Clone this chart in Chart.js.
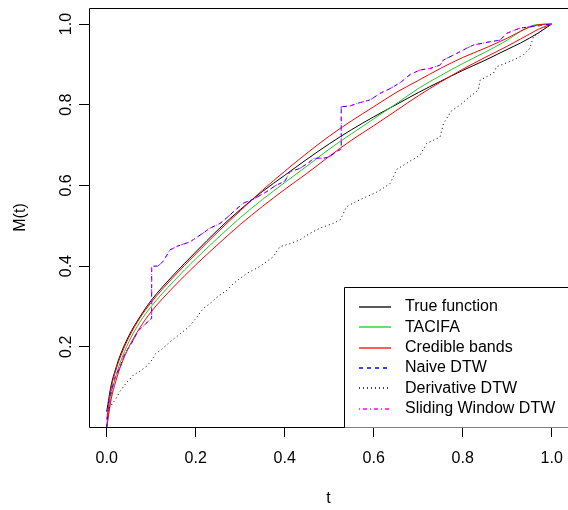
<!DOCTYPE html>
<html><head><meta charset="utf-8">
<script src="https://cdn.jsdelivr.net/npm/chart.js@4/dist/chart.umd.min.js"></script>
<style>html,body{margin:0;padding:0;background:#fff;overflow:hidden}#wrap{width:568px;height:510px}</style>
</head><body><div id="wrap"><canvas id="c" width="568" height="510"></canvas></div>
<script>
// ---- data ----
const tSmooth = [0,0.01,0.02,0.03,0.05,0.075,0.1,0.15,0.2,0.25,0.3,0.35,0.4,0.45,0.5,0.55,0.6,0.65,0.7,0.75,0.8,0.85,0.9,0.93,0.95,0.97,1.0];
const trueFunction = [0.04,0.105,0.145,0.178,0.228,0.275,0.315,0.378,0.435,0.49,0.54,0.585,0.625,0.665,0.703,0.738,0.77,0.80,0.83,0.858,0.885,0.91,0.937,0.953,0.965,0.978,1.0];
const tacifa = [0.0,0.08,0.125,0.16,0.213,0.262,0.30,0.362,0.418,0.47,0.52,0.565,0.607,0.648,0.69,0.728,0.765,0.802,0.84,0.872,0.902,0.93,0.96,0.982,0.994,0.999,1.0];
const bandUpper = [0.02,0.098,0.14,0.173,0.224,0.272,0.31,0.373,0.43,0.485,0.537,0.588,0.635,0.68,0.722,0.76,0.795,0.83,0.86,0.89,0.917,0.94,0.965,0.982,0.992,0.998,1.0];
const bandLower = [0.0,0.07,0.113,0.148,0.2,0.248,0.287,0.348,0.403,0.454,0.503,0.548,0.59,0.63,0.672,0.712,0.748,0.785,0.822,0.856,0.888,0.917,0.945,0.963,0.975,0.987,1.0];

const tDTW = [0,0.004,0.011,0.019,0.03,0.041,0.056,0.071,0.086,0.097,0.101,0.101,0.115,0.127,0.142,0.16,0.187,0.21,0.232,0.255,0.27,0.29,0.307,0.33,0.36,0.38,0.40,0.412,0.434,0.457,0.464,0.49,0.502,0.517,0.527,0.527,0.547,0.562,0.592,0.614,0.637,0.66,0.682,0.704,0.727,0.749,0.757,0.779,0.809,0.824,0.861,0.884,0.899,0.929,0.966,1.0];
const naiveDTW = [0,0.06,0.093,0.126,0.15,0.184,0.209,0.24,0.255,0.268,0.27,0.40,0.40,0.412,0.44,0.45,0.46,0.477,0.494,0.506,0.52,0.54,0.556,0.566,0.585,0.60,0.61,0.634,0.642,0.659,0.667,0.668,0.672,0.684,0.69,0.795,0.797,0.803,0.812,0.828,0.84,0.855,0.875,0.886,0.89,0.898,0.911,0.923,0.94,0.948,0.956,0.96,0.977,0.99,0.995,1.0];
const slidingDTW = [0,0.06,0.093,0.126,0.15,0.184,0.209,0.24,0.255,0.268,0.27,0.40,0.40,0.412,0.44,0.45,0.46,0.477,0.494,0.506,0.52,0.54,0.556,0.566,0.585,0.60,0.61,0.634,0.642,0.659,0.667,0.668,0.672,0.684,0.69,0.795,0.797,0.803,0.812,0.828,0.84,0.855,0.875,0.886,0.89,0.898,0.911,0.923,0.94,0.948,0.956,0.96,0.977,0.99,0.995,1.0];

const tDeriv = [0,0.01,0.02,0.03,0.04,0.05,0.06,0.075,0.09,0.1,0.11,0.125,0.145,0.165,0.185,0.2,0.217,0.235,0.25,0.27,0.285,0.3,0.315,0.344,0.374,0.389,0.41,0.434,0.455,0.479,0.509,0.525,0.539,0.56,0.584,0.61,0.637,0.652,0.674,0.704,0.719,0.749,0.757,0.775,0.794,0.816,0.835,0.839,0.869,0.876,0.906,0.936,0.951,0.959,0.97,0.981,1.0];
const derivativeDTW = [0.04,0.055,0.07,0.09,0.105,0.118,0.13,0.14,0.152,0.165,0.183,0.195,0.215,0.232,0.25,0.27,0.295,0.31,0.325,0.34,0.357,0.37,0.382,0.399,0.423,0.448,0.455,0.465,0.48,0.494,0.506,0.515,0.547,0.56,0.572,0.585,0.605,0.64,0.655,0.675,0.704,0.72,0.754,0.785,0.799,0.82,0.836,0.861,0.878,0.894,0.907,0.923,0.94,0.969,0.977,0.989,1.0];

const xTickValues = [0,0.2,0.4,0.6,0.8,1.0];
const yTickValues = [0.2,0.4,0.6,0.8,1.0];
const legendLabels = ['True function','TACIFA','Credible bands','Naive DTW','Derivative DTW','Sliding Window DTW'];
const xTitle = 't';
const yTitle = 'M(t)';

// ---- styles ----
const C_BLACK='#000000', C_GREEN='#1fc81f', C_RED='#ff0000', C_BLUE='#0000ff', C_MAG='#ff00ff';
const legendStyles = [
  {color:C_BLACK, dash:[]},
  {color:C_GREEN, dash:[]},
  {color:C_RED, dash:[]},
  {color:C_BLUE, dash:[4,4]},
  {color:C_BLACK, dash:[1,3]},
  {color:C_MAG, dash:[1,3,4,3]}
];

function pts(ts, ys){ return ts.map((t,i)=>({x:t,y:ys[i]})); }

Chart.defaults.font.family = "'Liberation Sans', Arial, Helvetica, sans-serif";
Chart.defaults.font.size = 16;
Chart.defaults.color = '#000';

const boxPlugin = {
  id:'rbox',
  afterDraw(chart){
    const ctx = chart.ctx, a = chart.chartArea;
    const L = Math.round(a.left)+0.5, T = Math.round(a.top)+0.5, B = Math.round(a.bottom)+0.5;
    ctx.save();
    ctx.lineWidth=1; ctx.setLineDash([]);
    ctx.strokeStyle='#000';
    ctx.beginPath();
    ctx.moveTo(chart.width+2, T); ctx.lineTo(L, T); ctx.lineTo(L, B); ctx.lineTo(chart.width+2, B);
    ctx.stroke();
    // legend (bottom right, inside plot)
    const lx = 344.5, ly = 287.5;
    ctx.fillStyle='#ffffff';
    ctx.fillRect(lx, ly, chart.width - lx + 2, B - ly);
    ctx.strokeStyle='#000';
    ctx.beginPath();
    ctx.moveTo(chart.width+2, ly); ctx.lineTo(lx, ly); ctx.lineTo(lx, B);
    ctx.stroke();
    ctx.font = "16px 'Liberation Sans', Arial, sans-serif";
    ctx.textBaseline='middle'; ctx.textAlign='left';
    for (let i = 0; i < legendLabels.length; i++) {
      const yc = 307 + i*20.35;
      const st = legendStyles[i];
      ctx.save();
      ctx.lineWidth = 1.3;
      ctx.strokeStyle = st.color;
      ctx.setLineDash(st.dash);
      ctx.beginPath(); ctx.moveTo(359, Math.round(yc)); ctx.lineTo(391, Math.round(yc)); ctx.stroke();
      ctx.restore();
      ctx.fillStyle='#000';
      ctx.fillText(legendLabels[i], 405, yc);
    }
    ctx.restore();
  }
};

const xMin = -0.0398, xMax = 1.0366, yMin = 0.0013, yMax = 1.0397;

const smoothDs = (label, data, color) => ({label, data, borderColor:color, borderWidth:1, pointRadius:0, cubicInterpolationMode:'monotone', fill:false});
const dtwDs = (label, data, color, dash) => ({label, data, borderColor:color, borderWidth:1, pointRadius:0, tension:0, borderDash:dash, fill:false});

new Chart(document.getElementById('c'), {
  type:'line',
  data:{ datasets:[
    dtwDs('Sliding Window DTW', pts(tDTW, slidingDTW), C_MAG, [1,3,4,3]),
    dtwDs('Derivative DTW', pts(tDeriv, derivativeDTW), C_BLACK, [1,3]),
    dtwDs('Naive DTW', pts(tDTW, naiveDTW), C_BLUE, [4,4]),
    smoothDs('Credible bands', pts(tSmooth, bandUpper), C_RED),
    smoothDs('Credible bands (lower)', pts(tSmooth, bandLower), C_RED),
    smoothDs('TACIFA', pts(tSmooth, tacifa), C_GREEN),
    smoothDs('True function', pts(tSmooth, trueFunction), C_BLACK)
  ]},
  options:{
    responsive:false, animation:false, devicePixelRatio:1,
    layout:{padding:{top:8,left:0,right:0,bottom:0}},
    plugins:{legend:{display:false}, tooltip:{enabled:false}},
    elements:{line:{borderCapStyle:'butt'}},
    scales:{
      x:{
        type:'linear', min:xMin, max:xMax,
        afterBuildTicks: s => { s.ticks = xTickValues.map(v=>({value:v})); },
        afterFit: s => { s.height = 83; s.paddingLeft=0; s.paddingRight=0; s.paddingTop=0; s.paddingBottom=0; },
        ticks:{ autoSkip:false, minRotation:0, maxRotation:0, padding:12, color:'#000', font:{size:16}, callback:v=>Number(v).toFixed(1) },
        grid:{ drawOnChartArea:false, drawTicks:true, tickLength:10, color:'#000', lineWidth:1 },
        border:{display:false},
        title:{display:true, text:xTitle, color:'#000', font:{size:16}, padding:{top:0,bottom:2}}
      },
      y:{
        type:'linear', min:yMin, max:yMax,
        afterBuildTicks: s => { s.ticks = yTickValues.map(v=>({value:v})); },
        afterFit: s => { s.width = 89; s.paddingLeft=0; s.paddingRight=0; s.paddingTop=0; s.paddingBottom=0; },
        ticks:{ autoSkip:false, minRotation:90, maxRotation:90, crossAlign:'center', padding:1, color:'#000', font:{size:16}, callback:v=>Number(v).toFixed(1) },
        grid:{ drawOnChartArea:false, drawTicks:true, tickLength:10, color:'#000', lineWidth:1 },
        border:{display:false},
        title:{display:true, text:yTitle, color:'#000', font:{size:16}, padding:{top:11,bottom:0}}
      }
    }
  },
  plugins:[boxPlugin]
});
</script>
</body></html>
